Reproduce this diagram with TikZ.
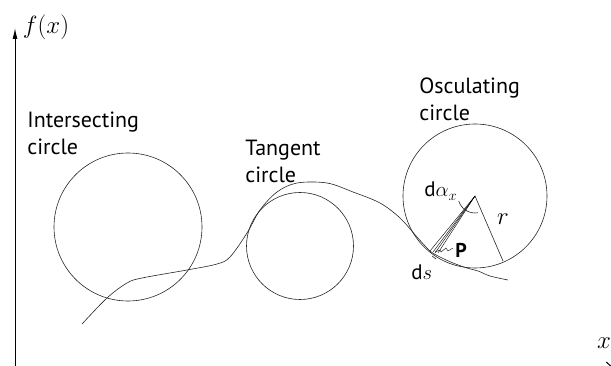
\documentclass[tikz,border=0pt]{standalone}
\usepackage{fontspec}
\setsansfont{PT Sans}
\usetikzlibrary{arrows.meta}
\begin{document}
\begin{tikzpicture}[x=1pt,y=-1pt,line width=.7pt,
  lbl/.style={font=\sffamily\fontsize{22}{27}\selectfont,align=left,anchor=north west,inner sep=0pt},
  sym/.style={font=\sffamily\fontsize{21}{21}\selectfont,anchor=base west,inner sep=0pt},
  thin/.style={line width=.6pt,draw=black!85}]
\useasboundingbox (0,0) rectangle (611,366);
\coordinate (O) at (15,372);\coordinate (ytip) at (15,28);\coordinate (xtip) at (618,372);
\draw[line width=1pt,-{Latex[length=11pt,width=5pt]}] (O) -- (ytip);
\draw[line width=1pt,-{Straight Barb[length=11pt,width=20pt]}] (O) -- (xtip);
\node[font=\fontsize{25}{25}\selectfont,inner sep=0pt] (fx) at (46,27) {$f(x)$};
\node[font=\fontsize{24}{24}\selectfont,inner sep=0pt] (xl) at (604,343) {$x$};
\coordinate (ci) at (128,227);\coordinate (ct) at (300,246);\coordinate (co) at (475,196);
\draw[thin] (ci) circle (74);
\draw[thin] (ct) circle (53.5);
\draw[thin] (co) circle (72);
\draw[thin] plot[smooth,tension=.55] coordinates {(82,324) (107,298) (127,283) (142,278) (187,270) (217,264) (230,257) (247,233) (260,210) (277,192) (297,183) (327,183) (353,192) (380,203) (400,218) (417,237) (430,251) (440,257) (453,263) (467,268) (478,271) (490,276) (508,280)};
\node[lbl] (inter) at (27,112) {Intersecting\\circle};
\node[lbl] (tang) at (245,140) {Tangent\\circle};
\node[lbl] (oscu) at (419,77) {Osculating\\circle};
\coordinate (rend) at (503,261);
\draw[thin] (co) -- (rend);
\foreach \x/\y in {430/251,433/252,435/253,438/253}{\draw[line width=.4pt] (co) -- (\x,\y);}
\draw[thin] (co) ++(163:17) arc[start angle=163,end angle=80,radius=17];
\draw[line width=.4pt] (453,248) -- (448,251) -- (446,248) -- (441,252) -- (440,250) -- (435,252);
\draw[thin] (432,256) -- (436,259);
\node[sym] (dalpha) at (424,197) {d$\alpha_x$};
\node[sym,font=\sffamily\bfseries\fontsize{20}{20}\selectfont] (P) at (455,258) {P};
\node[font=\fontsize{25}{25}\selectfont,inner sep=0pt] (r) at (503,219) {$r$};
\node[sym] (ds) at (411,280) {d$s$};
\end{tikzpicture}
\end{document}
